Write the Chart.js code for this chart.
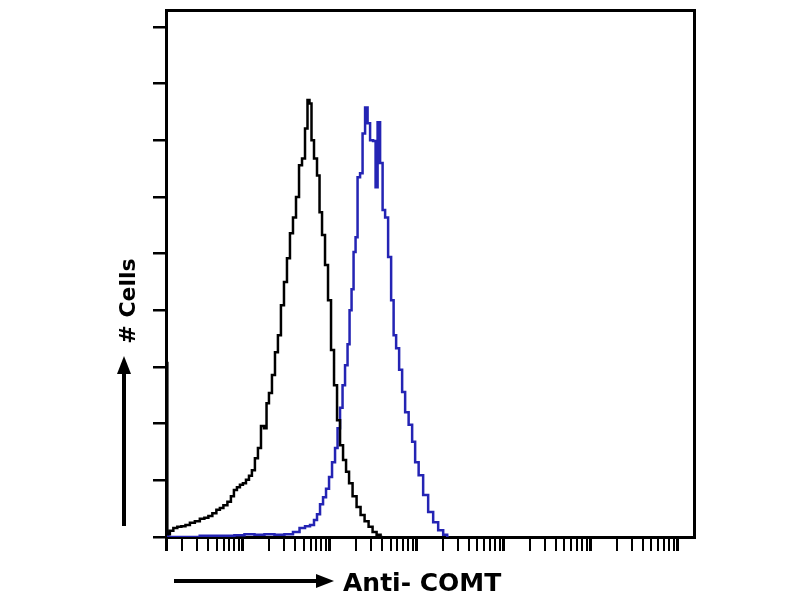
<!DOCTYPE html>
<html><head><meta charset="utf-8">
<script src="https://cdn.jsdelivr.net/npm/chart.js@4"></script>
<style>html,body{margin:0;padding:0;background:#fff;} #wrap{width:800px;height:600px;}</style>
</head><body><div id="wrap"><canvas id="c" width="800" height="600"></canvas></div>
<script>
// ---- axis ranges / ticks ----
const xAxisMin = 13.03;
const xAxisMax = 1.549e7;
const yAxisMax = 9.3;
const yTickValues = [0, 1, 2, 3, 4, 5, 6, 7, 8, 9];
const xDecades = [10, 100, 1000, 10000, 100000, 1000000, 10000000];
const xSubSteps = [2, 3, 4, 5, 6, 7, 8, 9];

// ---- isotype control (black) ----
const isotypeX = [13.1, 13.9, 15.0, 16.7, 18.5, 20.7, 23.0, 26.2, 29.9, 34.1, 38.0, 42.2, 46.9, 52.2, 56.5, 62.9, 69.9, 75.7, 82.0, 88.8, 96.1, 104, 113, 122, 132, 143, 155, 168, 182, 192, 207, 225, 243, 263, 285, 309, 334, 362, 392, 425, 460, 498, 539, 568, 599, 632, 684, 741, 782, 846, 916, 992, 1074, 1163, 1260, 1364, 1477, 1599, 1732, 1926, 2141, 2381, 2648, 2944, 3273, 3640, 4047];
const isotypeY = [3.07, 0.05, 0.11, 0.16, 0.18, 0.19, 0.21, 0.25, 0.28, 0.32, 0.34, 0.37, 0.42, 0.48, 0.51, 0.56, 0.62, 0.72, 0.83, 0.88, 0.92, 0.95, 1.01, 1.08, 1.18, 1.39, 1.57, 1.96, 1.92, 2.36, 2.54, 2.86, 3.26, 3.56, 4.09, 4.50, 4.92, 5.36, 5.64, 6.00, 6.56, 6.68, 7.21, 7.71, 7.65, 7.00, 6.68, 6.38, 5.73, 5.33, 4.80, 4.18, 3.30, 2.68, 2.06, 1.62, 1.36, 1.15, 0.95, 0.72, 0.53, 0.39, 0.28, 0.18, 0.09, 0.04, 0];

// ---- Anti-COMT (blue) ----
const comtX = [13.2, 14.5, 69.9, 91.1, 119, 155, 202, 263, 343, 414, 485, 554, 632, 684, 741, 803, 869, 941, 1019, 1103, 1195, 1260, 1364, 1438, 1557, 1642, 1732, 1826, 1926, 2030, 2141, 2318, 2445, 2648, 2792, 3023, 3273, 3451, 3640, 3941, 4156, 4501, 4874, 5278, 5565, 6026, 6524, 7066, 7649, 8505, 9211, 9970, 11090, 12660, 14460, 16510, 18850, 21530, 23310];
const comtY = [0.08, 0, 0.02, 0.03, 0.05, 0.04, 0.05, 0.04, 0.05, 0.09, 0.16, 0.19, 0.21, 0.30, 0.40, 0.58, 0.70, 0.85, 1.06, 1.32, 1.57, 1.92, 2.28, 2.68, 3.03, 3.40, 4.00, 4.37, 5.03, 5.29, 6.35, 6.42, 7.12, 7.58, 7.30, 7.00, 6.99, 6.17, 7.32, 6.60, 5.77, 5.64, 4.94, 4.18, 3.56, 3.33, 2.95, 2.56, 2.20, 1.98, 1.68, 1.32, 1.09, 0.74, 0.44, 0.26, 0.12, 0.04, 0];

const xTickList = [{value: xAxisMin, major: true}];
xDecades.forEach((d, i) => {
  if (i > 0 && d >= xAxisMin && d <= xAxisMax) xTickList.push({value: d, major: true});
  xSubSteps.forEach(k => {
    const v = k * d;
    if (v > xAxisMin && v < xAxisMax) xTickList.push({value: v, major: false});
  });
});
xTickList.sort((a, b) => a.value - b.value);

const annot = {
  id: 'annot',
  afterDraw(chart) {
    const c = chart.ctx;
    c.save();
    c.fillStyle = '#000';
    c.strokeStyle = '#000';
    c.lineWidth = 4;
    // x arrow
    c.beginPath(); c.moveTo(174, 581); c.lineTo(318, 581); c.stroke();
    c.beginPath(); c.moveTo(334, 581); c.lineTo(316, 574); c.lineTo(316, 588); c.closePath(); c.fill();
    // y arrow
    c.beginPath(); c.moveTo(124, 526); c.lineTo(124, 372); c.stroke();
    c.beginPath(); c.moveTo(124, 356); c.lineTo(117, 374); c.lineTo(131, 374); c.closePath(); c.fill();
    // labels
    c.font = 'bold 25px "DejaVu Sans"';
    c.textAlign = 'left';
    c.textBaseline = 'alphabetic';
    c.fillText('Anti- COMT', 343, 591);
    c.translate(135, 301);
    c.rotate(-Math.PI / 2);
    c.textAlign = 'center';
    c.font = 'bold 22px "DejaVu Sans"';
    c.fillText('# Cells', 0, 0);
    c.restore();
  }
};

new Chart(document.getElementById('c'), {
  type: 'line',
  data: {
    datasets: [
      {label: 'Isotype', data: isotypeX.map((x, i) => ({x: x, y: isotypeY[i]})),
       borderColor: '#000000', borderWidth: 2.5, pointRadius: 0, stepped: 'middle', fill: false},
      {label: 'Anti- COMT', data: comtX.map((x, i) => ({x: x, y: comtY[i]})),
       borderColor: '#2424b4', borderWidth: 2.5, pointRadius: 0, stepped: 'middle', fill: false}
    ]
  },
  options: {
    responsive: false, animation: false, devicePixelRatio: 1,
    layout: {padding: {left: 153, right: 106, top: 10, bottom: 49}},
    plugins: {legend: {display: false}, tooltip: {enabled: false}},
    scales: {
      x: {type: 'logarithmic', axis: 'x', position: 'bottom', min: xAxisMin, max: xAxisMax, bounds: 'data',
          ticks: {display: false},
          grid: {drawOnChartArea: false, drawTicks: true, tickLength: 14, color: '#000',
                 lineWidth: ctx => (ctx.tick && ctx.tick.major) ? 3 : 2},
          border: {display: true, color: '#000', width: 3},
          afterBuildTicks: s => { s.ticks = xTickList.map(t => ({value: t.value, major: t.major})); }},
      y: {type: 'linear', axis: 'y', position: 'left', min: 0, max: yAxisMax,
          ticks: {display: false},
          grid: {drawOnChartArea: false, drawTicks: true, tickLength: 13, color: '#000', lineWidth: 2.5},
          border: {display: true, color: '#000', width: 3},
          afterBuildTicks: s => { s.ticks = yTickValues.map(v => ({value: v})); }},
      xTop: {type: 'linear', axis: 'x', position: 'top', ticks: {display: false},
             grid: {display: false, drawTicks: false}, border: {display: true, color: '#000', width: 3}},
      yRight: {type: 'linear', axis: 'y', position: 'right', ticks: {display: false},
               grid: {display: false, drawTicks: false}, border: {display: true, color: '#000', width: 3}}
    }
  },
  plugins: [annot]
});
</script>
</body></html>
